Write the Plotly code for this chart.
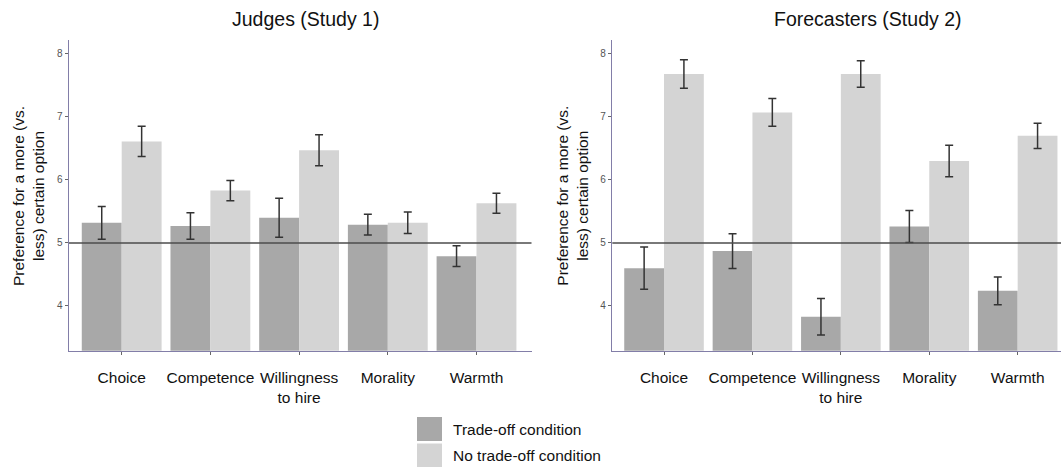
import plotly.graph_objects as go

categories = ["Choice", "Competence", "Willingness<br>to hire", "Morality", "Warmth"]

judges_tradeoff = [5.32, 5.27, 5.40, 5.29, 4.79]
judges_tradeoff_err = [0.26, 0.21, 0.31, 0.165, 0.165]
judges_notradeoff = [6.61, 5.83, 6.47, 5.32, 5.63]
judges_notradeoff_err = [0.24, 0.16, 0.245, 0.17, 0.16]

forecasters_tradeoff = [4.60, 4.87, 3.83, 5.26, 4.24]
forecasters_tradeoff_err = [0.335, 0.275, 0.29, 0.255, 0.22]
forecasters_notradeoff = [7.68, 7.07, 7.68, 6.30, 6.70]
forecasters_notradeoff_err = [0.225, 0.22, 0.21, 0.25, 0.20]

y_ticks = [4, 5, 6, 7, 8]
reference_value = 5
legend_labels = ["Trade-off condition", "No trade-off condition"]
panel_titles = ["Judges (Study 1)", "Forecasters (Study 2)"]
y_title = "Preference for a more (vs.<br>less) certain option"

DARK = "#a8a8a8"
LIGHT = "#d4d4d4"
ERR = "#333333"
AXIS = "#827ea8"
FONT = "Liberation Sans, Arial, sans-serif"
TEXT = "#111111"

W, H = 1061, 467
px = lambda v: v / W
py = lambda v: 1 - v / H

fig = go.Figure()

def add_pair(xaxis, yaxis, a, a_err, b, b_err):
    fig.add_trace(go.Bar(
        x=list(range(len(categories))), y=a, name=legend_labels[0],
        marker=dict(color=DARK, line=dict(width=0)),
        error_y=dict(type="data", array=a_err, color=ERR, thickness=1.5, width=4),
        xaxis=xaxis, yaxis=yaxis, showlegend=False, offsetgroup="a"))
    fig.add_trace(go.Bar(
        x=list(range(len(categories))), y=b, name=legend_labels[1],
        marker=dict(color=LIGHT, line=dict(width=0)),
        error_y=dict(type="data", array=b_err, color=ERR, thickness=1.5, width=4),
        xaxis=xaxis, yaxis=yaxis, showlegend=False, offsetgroup="b"))

add_pair("x", "y", judges_tradeoff, judges_tradeoff_err, judges_notradeoff, judges_notradeoff_err)
add_pair("x2", "y2", forecasters_tradeoff, forecasters_tradeoff_err, forecasters_notradeoff, forecasters_notradeoff_err)

ydom = [py(350.7), py(40)]
yrange = [3.29, 8.22]

xcommon = dict(
    tickmode="array", tickvals=list(range(len(categories))), ticktext=categories,
    showline=True, linecolor=AXIS, linewidth=1.5, showgrid=False, zeroline=False,
    ticks="outside", ticklen=3, tickcolor="#666666", tickwidth=1,
    tickfont=dict(family=FONT, size=15.5, color=TEXT),
    ticklabelstandoff=9, fixedrange=True,
)
ycommon = dict(
    tickmode="array", tickvals=y_ticks, range=yrange, domain=ydom,
    showline=True, linecolor=AXIS, linewidth=1.5, showgrid=False, zeroline=False,
    ticks="outside", ticklen=3, tickcolor="#666666", tickwidth=1,
    tickfont=dict(family=FONT, size=10, color="#555555"), fixedrange=True,
)

fig.update_layout(
    width=W, height=H, autosize=False,
    margin=dict(l=0, r=0, t=0, b=0),
    paper_bgcolor="white", plot_bgcolor="white",
    barmode="group", bargap=0.1, bargroupgap=0,
    font=dict(family=FONT, color=TEXT),
    xaxis=dict(domain=[px(69), px(531.5)], range=[-0.594, 4.62], anchor="y", **xcommon),
    yaxis=dict(anchor="x", **ycommon),
    xaxis2=dict(domain=[px(612.3), 1.0], range=[-0.585, 4.49], anchor="y2", **xcommon),
    yaxis2=dict(anchor="x2", **ycommon),
    showlegend=False,
)

# reference lines at 5
for xr, yr in [("x domain", "y"), ("x2 domain", "y2")]:
    fig.add_shape(type="line", xref=xr, yref=yr, x0=0, x1=1, y0=reference_value, y1=reference_value,
                  line=dict(color="#4d4d4d", width=1.5), layer="above")

# panel titles
for title, cx in zip(panel_titles, [305.5, 867]):
    fig.add_annotation(text=title, x=px(cx), y=py(19), xref="paper", yref="paper",
                       showarrow=False, xanchor="center", yanchor="middle",
                       font=dict(family=FONT, size=19.5, color=TEXT))

# y-axis titles
for cx in [28, 571.7]:
    fig.add_annotation(text=y_title, x=px(cx), y=py(196), xref="paper", yref="paper",
                       showarrow=False, xanchor="center", yanchor="middle", textangle=-90,
                       font=dict(family=FONT, size=15.5, color=TEXT))

# legend
for i, (lab, col) in enumerate(zip(legend_labels, [DARK, LIGHT])):
    top = 417 + i * 26.5
    fig.add_shape(type="rect", xref="paper", yref="paper",
                  x0=px(417), x1=px(442), y0=py(top + 24), y1=py(top),
                  fillcolor=col, line=dict(width=0))
    fig.add_annotation(text=lab, x=px(451), y=py(top + 12), xref="paper", yref="paper",
                       showarrow=False, xanchor="left", yanchor="middle",
                       font=dict(family=FONT, size=15.5, color=TEXT))

fig.write_html(
    "out.html",
    config={"displayModeBar": False, "staticPlot": True},
    post_script="document.body.style.margin='0';document.body.style.overflow='hidden';",
)
